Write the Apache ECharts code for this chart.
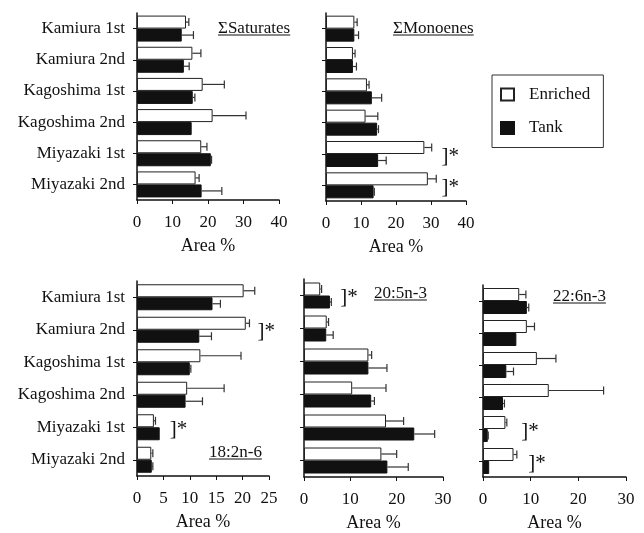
<!DOCTYPE html>
<html>
<head>
<meta charset="utf-8">
<script src="https://cdn.jsdelivr.net/npm/echarts@6/dist/echarts.min.js"></script>
<style>html,body{margin:0;padding:0;background:#fff}#c{width:644px;height:533px}</style>
</head>
<body>
<div id="c"></div>
<script>
const categories = ['Kamiura 1st','Kamiura 2nd','Kagoshima 1st','Kagoshima 2nd','Miyazaki 1st','Miyazaki 2nd'];
const seriesNames = ['Enriched','Tank'];

const satEnriched = [13.8,15.6,18.5,21.3,18.1,16.5];
const satEnrichedErr = [0.8,2.4,6.1,9.4,1.6,1.0];
const satTank = [12.6,13.2,15.7,15.4,20.8,18.2];
const satTankErr = [3.3,1.5,0.6,0,0.2,5.7];

const monoEnriched = [8.1,7.7,11.7,11.3,28.1,29.1];
const monoEnrichedErr = [0.8,0.6,0.6,3.5,2.1,2.4];
const monoTank = [8.1,7.7,13.1,14.6,14.9,13.6];
const monoTankErr = [1.2,1.0,2.8,0.4,2.3,0.2];

const laEnriched = [20.2,20.6,12.0,9.5,3.2,2.7];
const laEnrichedErr = [2.1,0.7,7.7,7.0,0.3,0.3];
const laTank = [14.3,11.8,10.0,9.2,4.3,2.8];
const laTankErr = [1.5,2.3,0.2,3.2,0,0.2];

const epaEnriched = [3.5,4.9,13.9,10.4,17.7,16.7];
const epaEnrichedErr = [0.3,0.4,0.7,7.3,3.8,3.3];
const epaTank = [5.6,4.8,13.9,14.5,23.8,18.0];
const epaTankErr = [0.3,1.5,4.0,0.7,4.4,4.5];

const dhaEnriched = [7.6,9.2,11.3,13.8,4.7,6.4];
const dhaEnrichedErr = [1.4,1.6,4.0,11.5,0.3,0.7];
const dhaTank = [9.2,7.0,4.9,4.2,1.0,1.3];
const dhaTankErr = [0.4,0,1.5,0.3,0.1,0];

const satSig = [];
const monoSig = [['Miyazaki 1st',33],['Miyazaki 2nd',33]];
const laSig = [['Kamiura 2nd',22.8],['Miyazaki 1st',6.2]];
const epaSig = [['Kamiura 1st',7.8]];
const dhaSig = [['Miyazaki 1st',8.0],['Miyazaki 2nd',9.5]];

const panelTitles = ['\u03A3Saturates','\u03A3Monoenes','18:2n-6','20:5n-3','22:6n-3'];
const axisMax = [40,40,25,30,30];
const axisInterval = [10,10,5,10,10];

const FONT = "'Liberation Serif','Times New Roman',serif";
const panels = [
  {e:satEnriched, ee:satEnrichedErr, t:satTank, te:satTankErr, sig:satSig, grid:{left:137,top:13,width:142,height:187}, labels:true},
  {e:monoEnriched, ee:monoEnrichedErr, t:monoTank, te:monoTankErr, sig:monoSig, grid:{left:326,top:13,width:140,height:188}, labels:false},
  {e:laEnriched, ee:laEnrichedErr, t:laTank, te:laTankErr, sig:laSig, grid:{left:137,top:281,width:132,height:195}, labels:true},
  {e:epaEnriched, ee:epaEnrichedErr, t:epaTank, te:epaTankErr, sig:epaSig, grid:{left:304,top:279,width:139,height:198}, labels:false},
  {e:dhaEnriched, ee:dhaEnrichedErr, t:dhaTank, te:dhaTankErr, sig:dhaSig, grid:{left:483,top:285,width:143,height:195}, labels:false}
];
const titlePos = [[218,37],[393,37],[209,461],[374,302],[553,305]];

const BARW = 13;
const grids = [], xAxes = [], yAxes = [], series = [];

function errRender(offset){
  return function(params, api){
    const v = api.value(0), c = api.value(1), e = api.value(2);
    if (!(e > 0)) return null;
    const s = api.coord([v, c]), en = api.coord([v + e, c]);
    const y = s[1] + offset;
    const st = {stroke:'#333', lineWidth:1.2};
    return {type:'group', children:[
      {type:'line', shape:{x1:s[0], y1:y, x2:en[0], y2:y}, style:st},
      {type:'line', shape:{x1:en[0], y1:y-4, x2:en[0], y2:y+4}, style:st}
    ]};
  };
}
function sigRender(params, api){
  const p = api.coord([api.value(0), api.value(1)]);
  return {type:'text', x:p[0], y:p[1]+2, style:{text:']*', font:'21px '+FONT, fill:'#111', align:'left', verticalAlign:'middle'}};
}

panels.forEach((p, i) => {
  grids.push(Object.assign({containLabel:false}, p.grid));
  xAxes.push({
    type:'value', gridIndex:i, min:0, max:axisMax[i], interval:axisInterval[i],
    name:'Area %', nameLocation:'middle', nameGap:37,
    nameTextStyle:{fontFamily:FONT, fontSize:18, color:'#111'},
    axisLine:{show:true, lineStyle:{color:'#111', width:1.5}},
    axisTick:{show:true, length:4, lineStyle:{color:'#111'}},
    axisLabel:{fontFamily:FONT, fontSize:17, color:'#111', margin:14},
    splitLine:{show:false}
  });
  yAxes.push({
    type:'category', gridIndex:i, data:categories, inverse:true,
    axisLine:{show:true, onZero:false, lineStyle:{color:'#111', width:1.5}},
    axisTick:{show:true, alignWithLabel:true, length:4, lineStyle:{color:'#111'}},
    axisLabel:{show:p.labels, fontFamily:FONT, fontSize:17, color:'#111', margin:12}
  });
  series.push({
    name:seriesNames[0], type:'bar', xAxisIndex:i, yAxisIndex:i, data:p.e,
    barWidth:BARW, barGap:'0%',
    itemStyle:{color:'#fff', borderColor:'#222', borderWidth:1}
  });
  series.push({
    name:seriesNames[1], type:'bar', xAxisIndex:i, yAxisIndex:i, data:p.t,
    barWidth:BARW, barGap:'0%',
    itemStyle:{color:'#111', borderColor:'#111', borderWidth:1}
  });
  series.push({
    type:'custom', xAxisIndex:i, yAxisIndex:i, z:5, silent:true,
    renderItem:errRender(-BARW/2),
    data:p.e.map((v,k)=>[v, categories[k], p.ee[k]])
  });
  series.push({
    type:'custom', xAxisIndex:i, yAxisIndex:i, z:5, silent:true,
    renderItem:errRender(BARW/2),
    data:p.t.map((v,k)=>[v, categories[k], p.te[k]])
  });
  series.push({
    type:'custom', xAxisIndex:i, yAxisIndex:i, z:6, silent:true,
    renderItem:sigRender,
    data:p.sig.map(s=>[s[1], s[0]])
  });
});

const graphics = [];
const measure = (t) => new echarts.graphic.Text({style:{text:t, font:'17px '+FONT}}).getBoundingRect().width;
panelTitles.forEach((t, i) => {
  const [x, y] = titlePos[i];
  graphics.push({type:'text', x:x, y:y, style:{text:t, font:'17px '+FONT, fill:'#111', align:'left', verticalAlign:'bottom'}, z:10});
  graphics.push({type:'line', shape:{x1:x, y1:y-2, x2:x+measure(t), y2:y-2}, style:{stroke:'#111', lineWidth:1}, z:10});
});

const chart = echarts.init(document.getElementById('c'), null, {renderer:'canvas'});
chart.setOption({
  animation:false,
  backgroundColor:'#fff',
  grid:grids, xAxis:xAxes, yAxis:yAxes, series:series,
  legend:{
    data:seriesNames, orient:'vertical', left:492, top:75,
    icon:'rect', itemWidth:13, itemHeight:12, itemGap:16.5,
    borderColor:'#333', borderWidth:1, padding:[11,13,11,8],
    textStyle:{fontFamily:FONT, fontSize:17, color:'#111', padding:[0,0,0,10]},
    selectedMode:false
  },
  graphic:graphics
});
</script>
</body>
</html>
